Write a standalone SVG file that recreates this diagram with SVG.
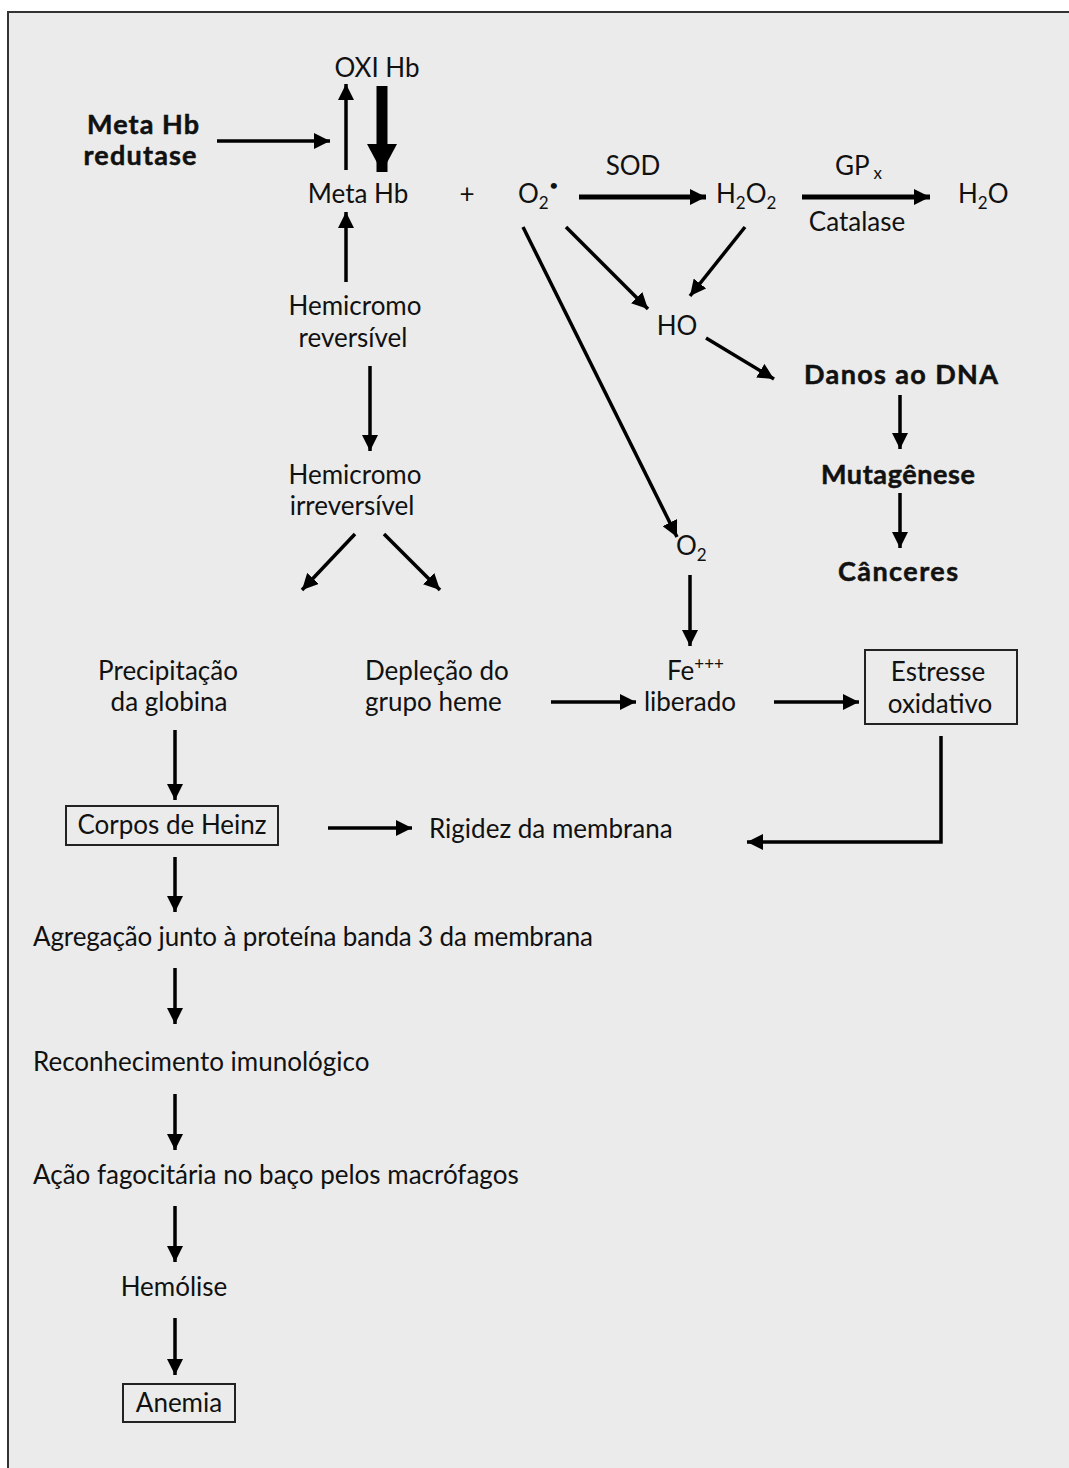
<svg xmlns="http://www.w3.org/2000/svg" width="1069" height="1468" viewBox="0 0 1069 1468">
<defs>
<marker id="ah" markerUnits="userSpaceOnUse" markerWidth="18" markerHeight="16" refX="16" refY="8" orient="auto"><path d="M0,0 L16,8 L0,16 Z" fill="#000"/></marker>
<marker id="ahb" markerUnits="userSpaceOnUse" markerWidth="32" markerHeight="32" refX="28" refY="16" orient="auto"><path d="M0,1 L28,16 L0,31 Z" fill="#000"/></marker>
<style>
text{font-family:Lato,"Open Sans","Liberation Sans",sans-serif;font-size:26px;fill:#111}
.b{font-weight:bold;font-size:27px;stroke:#111;stroke-width:0.5}
.m{text-anchor:middle}
.sub{font-size:17px}
.dot{font-size:14px;font-weight:bold}
.ln{stroke:#000;stroke-width:3.5;fill:none}
.lk{stroke:#000;stroke-width:5;fill:none}
.box{fill:none;stroke:#222;stroke-width:2}
</style>
</defs>
<rect x="0" y="0" width="1069" height="1468" fill="#fff"/>
<rect x="8" y="12" width="1080" height="1470" fill="#ebebeb" stroke="#333" stroke-width="2"/>

<g id="connectors">
<line class="ln" x1="217" y1="141" x2="330" y2="141" marker-end="url(#ah)"/>
<line class="ln" x1="346" y1="170" x2="346" y2="84" marker-end="url(#ah)"/>
<line x1="382" y1="86" x2="382" y2="172" stroke="#000" stroke-width="11" marker-end="url(#ahb)"/>
<line class="ln" x1="346" y1="282" x2="346" y2="212" marker-end="url(#ah)"/>
<line class="ln" x1="370" y1="366" x2="370" y2="451" marker-end="url(#ah)"/>
<line class="lk" x1="579" y1="197" x2="706" y2="197" marker-end="url(#ah)"/>
<line class="lk" x1="802" y1="197" x2="930" y2="197" marker-end="url(#ah)"/>
<line class="ln" x1="566" y1="227" x2="648" y2="309" marker-end="url(#ah)"/>
<line class="ln" x1="745" y1="227" x2="690" y2="296" marker-end="url(#ah)"/>
<line class="ln" x1="706" y1="338" x2="774" y2="379" marker-end="url(#ah)"/>
<line class="ln" x1="900" y1="395" x2="900" y2="449" marker-end="url(#ah)"/>
<line class="ln" x1="900" y1="493" x2="900" y2="548" marker-end="url(#ah)"/>
<line class="ln" x1="523" y1="227" x2="677" y2="537" marker-end="url(#ah)"/>
<line class="ln" x1="690" y1="575" x2="690" y2="646" marker-end="url(#ah)"/>
<line class="ln" x1="355" y1="534" x2="302" y2="590" marker-end="url(#ah)"/>
<line class="ln" x1="384" y1="534" x2="440" y2="590" marker-end="url(#ah)"/>
<line class="ln" x1="551" y1="702" x2="636" y2="702" marker-end="url(#ah)"/>
<line class="ln" x1="774" y1="702" x2="859" y2="702" marker-end="url(#ah)"/>
<polyline class="ln" points="941,736 941,842 747,842" marker-end="url(#ah)"/>
<line class="ln" x1="175" y1="730" x2="175" y2="800" marker-end="url(#ah)"/>
<line class="ln" x1="328" y1="828" x2="412" y2="828" marker-end="url(#ah)"/>
<line class="ln" x1="175" y1="857" x2="175" y2="912" marker-end="url(#ah)"/>
<line class="ln" x1="175" y1="968" x2="175" y2="1024" marker-end="url(#ah)"/>
<line class="ln" x1="175" y1="1094" x2="175" y2="1150" marker-end="url(#ah)"/>
<line class="ln" x1="175" y1="1206" x2="175" y2="1262" marker-end="url(#ah)"/>
<line class="ln" x1="175" y1="1318" x2="175" y2="1375" marker-end="url(#ah)"/>
</g>

<g id="oxihb"><text x="377" y="77" class="m">OXI Hb</text></g>
<g id="metahb-redutase"><text x="143" y="134" class="m b" textLength="112">Meta Hb</text><text x="140" y="165" class="m b" textLength="113">redutase</text></g>
<g id="metahb"><text x="358" y="203" class="m">Meta Hb</text></g>
<g id="plus"><text x="467" y="203" class="m">+</text></g>
<g id="o2rad"><text x="518" y="203">O<tspan class="sub" dy="6">2</tspan><tspan class="dot" dx="1" dy="-19">•</tspan></text></g>
<g id="sod"><text x="633" y="175" class="m">SOD</text></g>
<g id="h2o2"><text x="716" y="203">H<tspan class="sub" dy="6">2</tspan><tspan dy="-6">O</tspan><tspan class="sub" dy="6">2</tspan></text></g>
<g id="gpx"><text x="835" y="175">GP<tspan class="sub" dx="4" dy="4">x</tspan></text></g>
<g id="catalase"><text x="857" y="231" class="m">Catalase</text></g>
<g id="h2o"><text x="958" y="203">H<tspan class="sub" dy="6">2</tspan><tspan dy="-6">O</tspan></text></g>
<g id="ho"><text x="677" y="335" class="m">HO</text></g>
<g id="danos"><text x="901" y="384" class="m b" textLength="194">Danos ao DNA</text></g>
<g id="mutagenese"><text x="898" y="484" class="m b" textLength="154">Mutagênese</text></g>
<g id="canceres"><text x="898" y="581" class="m b" textLength="120">Cânceres</text></g>
<g id="hemi-rev"><text x="355" y="315" class="m">Hemicromo</text><text x="353" y="347" class="m">reversível</text></g>
<g id="hemi-irrev"><text x="355" y="484" class="m">Hemicromo</text><text x="352" y="515" class="m">irreversível</text></g>
<g id="o2"><text x="676" y="555">O<tspan class="sub" dy="6">2</tspan></text></g>
<g id="fe"><text x="667" y="680">Fe<tspan class="sub" dy="-10">+++</tspan></text><text x="690" y="711" class="m">liberado</text></g>
<g id="estresse"><rect class="box" x="865" y="650" width="152" height="74"/><text x="938" y="681" class="m">Estresse</text><text x="940" y="713" class="m">oxidativo</text></g>
<g id="precipitacao"><text x="168" y="680" class="m">Precipitação</text><text x="169" y="711" class="m">da globina</text></g>
<g id="deplecao"><text x="365" y="680">Depleção do</text><text x="365" y="711">grupo heme</text></g>
<g id="heinz"><rect class="box" x="66" y="806" width="212" height="39"/><text x="172" y="834" class="m">Corpos de Heinz</text></g>
<g id="rigidez"><text x="429" y="838">Rigidez da membrana</text></g>
<g id="agregacao"><text x="33" y="946" textLength="560">Agregação junto à proteína banda 3 da membrana</text></g>
<g id="reconhecimento"><text x="33" y="1071">Reconhecimento imunológico</text></g>
<g id="acao"><text x="33" y="1184">Ação fagocitária no baço pelos macrófagos</text></g>
<g id="hemolise"><text x="174" y="1296" class="m">Hemólise</text></g>
<g id="anemia"><rect class="box" x="123" y="1384" width="112" height="38"/><text x="179" y="1412" class="m">Anemia</text></g>
</svg>
